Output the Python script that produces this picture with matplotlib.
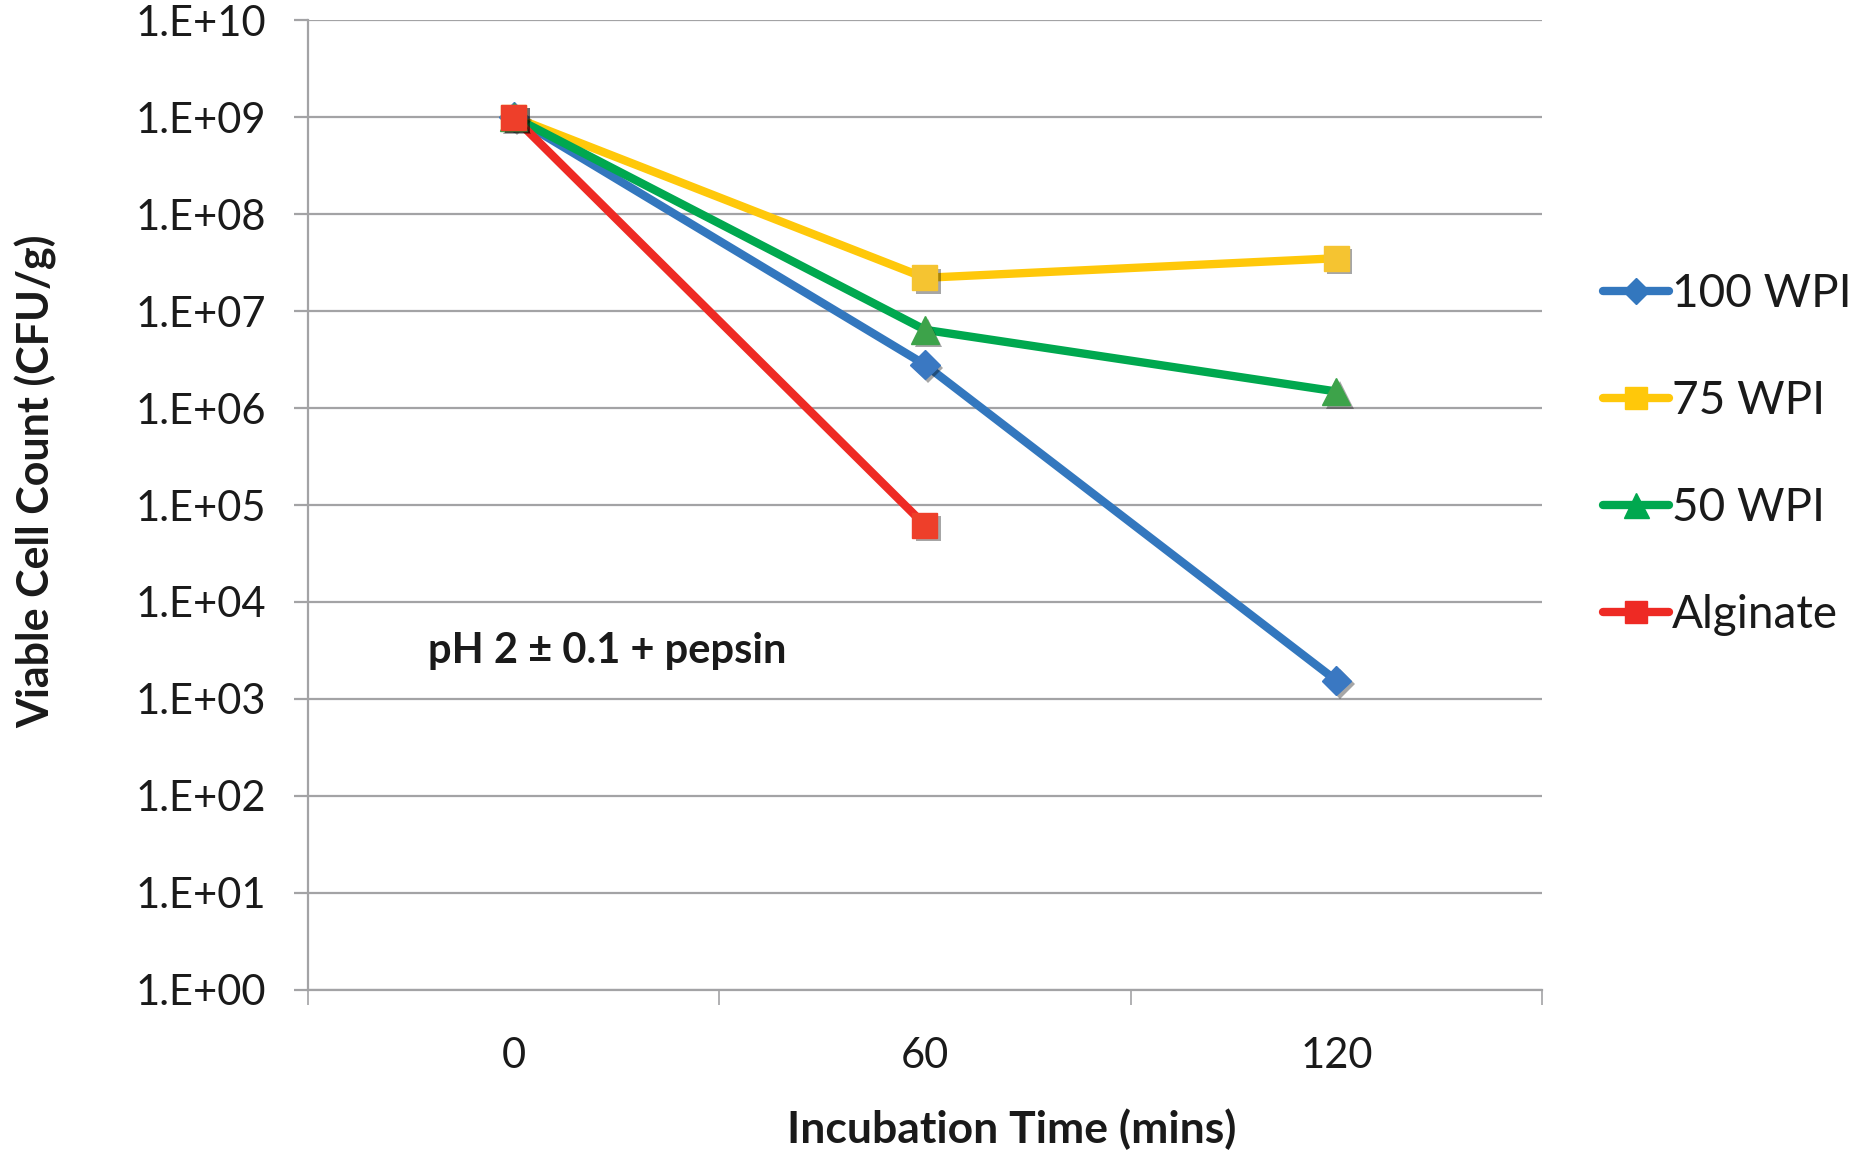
import matplotlib
matplotlib.use("Agg")
import matplotlib.pyplot as plt
import matplotlib.patheffects as pe
import numpy as np

plt.rcParams['font.family'] = ['Lato', 'DejaVu Sans']

categories = ["0", "60", "120"]
series_names = ["100 WPI", "75 WPI", "50 WPI", "Alginate"]
wpi100 = [1.0e9, 2.8e6, 1.55e3]
wpi75 = [1.0e9, 2.2e7, 3.5e7]
wpi50 = [1.0e9, 6.4e6, 1.48e6]
alginate = [1.0e9, 6.2e4]
ytick_values = [10.0 ** k for k in range(0, 11)]
ytick_labels = ["1.E+%02d" % k for k in range(0, 11)]

line_colors = ["#3377BE", "#FFC80A", "#00A84F", "#EE2A24"]
marker_colors = ["#3A78C2", "#F5C431", "#3DA34A", "#EE3F2A"]
markers = ["D", "s", "^", "s"]
msizes = [15, 18, 20, 18]

fig = plt.figure(figsize=(18.73, 11.51), dpi=100)
ax = fig.add_axes([0.1644, 0.1399, 0.8233 - 0.1644, 0.9826 - 0.1399])

data = [wpi100, wpi75, wpi50, alginate]
x_all = np.arange(len(categories))
order = [0, 2, 1, 3]
shadow = [pe.SimplePatchShadow(offset=(2.5, -2.5), alpha=0.35, shadow_rgbFace="#000000"), pe.Normal()]
handles = {}
for i in order:
    vals = data[i]
    xs = x_all[:len(vals)]
    ax.plot(xs, vals, color=line_colors[i], lw=6.0, solid_capstyle='round',
            zorder=3 + i)
    ax.plot(xs, vals, linestyle='none', marker=markers[i], ms=msizes[i],
            markerfacecolor=marker_colors[i], markeredgecolor=marker_colors[i],
            path_effects=shadow, zorder=10 + i)
    h, = ax.plot([], [], color=line_colors[i], lw=6.0, solid_capstyle='round',
                 marker=markers[i], ms=msizes[i] * 0.9,
                 markerfacecolor=line_colors[i], markeredgecolor=line_colors[i])
    handles[i] = h

ax.set_yscale('log')
ax.set_ylim(1e0, 1e10)
ax.set_xlim(-0.5, 2.5)
ax.set_yticks(ytick_values)
ax.set_yticklabels(ytick_labels)
ax.yaxis.set_minor_locator(matplotlib.ticker.NullLocator())
ax.set_xticks(x_all)
ax.set_xticklabels(categories)
ax.set_xticks(np.arange(-0.5, 2.6, 1.0), minor=True)

grid_c = "#A3A3A5"
ax.grid(axis='y', which='major', color=grid_c, lw=1.6, zorder=0)
ax.set_axisbelow(True)
for s in ['top', 'right']:
    ax.spines[s].set_visible(False)
ax.spines['left'].set_color(grid_c)
ax.spines['left'].set_linewidth(1.6)
ax.spines['bottom'].set_color(grid_c)
ax.spines['bottom'].set_linewidth(1.6)

ax.tick_params(axis='y', which='major', length=10, width=1.6, color=grid_c,
               labelsize=30, pad=20, labelcolor='#1a1a1a')
ax.tick_params(axis='x', which='major', length=0, labelsize=30, pad=34,
               labelcolor='#1a1a1a')
ax.tick_params(axis='x', which='minor', length=11, width=1.2, color=grid_c)

ax.set_xlabel("Incubation Time (mins)", fontsize=32, fontweight='bold', color='#1a1a1a')
ax.xaxis.set_label_coords(0.570, -0.144)
ax.xaxis.label.set_va('center')
ax.set_ylabel("Viable Cell Count (CFU/g)", fontsize=31, fontweight='bold', color='#1a1a1a')
ax.yaxis.set_label_coords(-0.2204, 0.5247)
ax.yaxis.label.set_va('center')

ax.text(-0.207, 3.1e3, "pH 2 \u00b1 0.1 + pepsin", fontsize=30, fontweight='bold',
        ha='left', va='center', color='#1a1a1a')

leg = fig.legend([handles[i] for i in range(4)], series_names,
                 loc='upper left', bbox_to_anchor=(1603 / 1873, 1 - 273 / 1151),
                 frameon=False, fontsize=33, handlelength=1.45, handletextpad=0.05,
                 labelspacing=1.42, borderaxespad=0, borderpad=0)
for t in leg.get_texts():
    t.set_color('#1a1a1a')

fig.savefig("out.png", dpi=100)
